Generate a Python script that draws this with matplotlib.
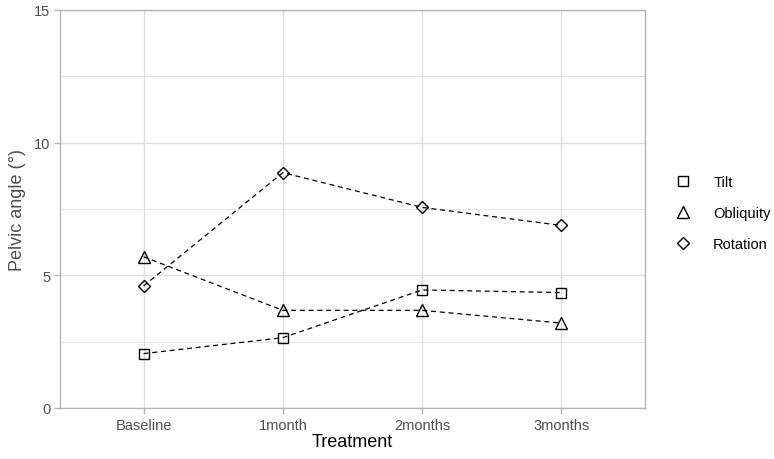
import matplotlib
matplotlib.use("Agg")
import matplotlib.pyplot as plt
from matplotlib.lines import Line2D
from matplotlib.ticker import MultipleLocator

plt.rcParams["font.family"] = ["Liberation Sans", "DejaVu Sans"]

treatments = ["Baseline", "1month", "2months", "3months"]
series_names = ["Tilt", "Obliquity", "Rotation"]
tilt = [2.05, 2.65, 4.45, 4.35]
obliquity = [5.7, 3.68, 3.68, 3.2]
rotation = [4.6, 8.87, 7.56, 6.88]
markers = {"Tilt": "s", "Obliquity": "^", "Rotation": "D"}
marker_sizes = {"Tilt": 7, "Obliquity": 9, "Rotation": 6.5}

grid_col = "#dedede"
border_col = "#b3b3b3"
text_col = "#4d4d4d"

fig = plt.figure(figsize=(7.74, 4.6), dpi=100)
ax = fig.add_axes([60 / 774, 51 / 460, 585 / 774, 398 / 460])

x = list(range(len(treatments)))
for name, vals in zip(series_names, [tilt, obliquity, rotation]):
    ax.plot(x, vals, color="black", linestyle=(0, (4, 3)), linewidth=0.9, zorder=2)
    ax.plot(x, vals, linestyle="none", marker=markers[name], markersize=marker_sizes[name],
            markerfacecolor="none", markeredgecolor="black", markeredgewidth=1.0, zorder=3)

ax.set_xlim(-0.6, 3.6)
ax.set_ylim(0, 15)
ax.set_xticks(x)
ax.set_xticklabels(treatments)
ax.yaxis.set_major_locator(MultipleLocator(5))
ax.yaxis.set_minor_locator(MultipleLocator(2.5))
ax.grid(which="major", color=grid_col, linewidth=1.0, zorder=0)
ax.grid(which="minor", axis="y", color=grid_col, linewidth=0.6, zorder=0)
ax.set_axisbelow(True)
for sp in ax.spines.values():
    sp.set_color(border_col)
    sp.set_linewidth(1.0)
ax.tick_params(axis="both", which="major", colors=border_col, labelcolor=text_col,
               labelsize=10.5, length=4, width=1.0, pad=3)
ax.tick_params(axis="y", which="minor", length=0)

ax.set_xlabel("Treatment", fontsize=13, color="black", labelpad=1)
ax.set_ylabel("Pelvic angle (°)", fontsize=13, color=text_col, labelpad=6)

handles = [
    Line2D([0], [0], linestyle="none", marker=markers[n], markersize=marker_sizes[n],
           markerfacecolor="none", markeredgecolor="black", markeredgewidth=1.0, label=n)
    for n in series_names
]
fig.legend(handles=handles, loc="center left", bbox_to_anchor=(665 / 774, (460 - 214) / 460),
           frameon=False, fontsize=10.5, handlelength=1.6, handletextpad=1.3,
           labelspacing=1.15, labelcolor="black", borderaxespad=0)

fig.savefig("out.png", dpi=100)
